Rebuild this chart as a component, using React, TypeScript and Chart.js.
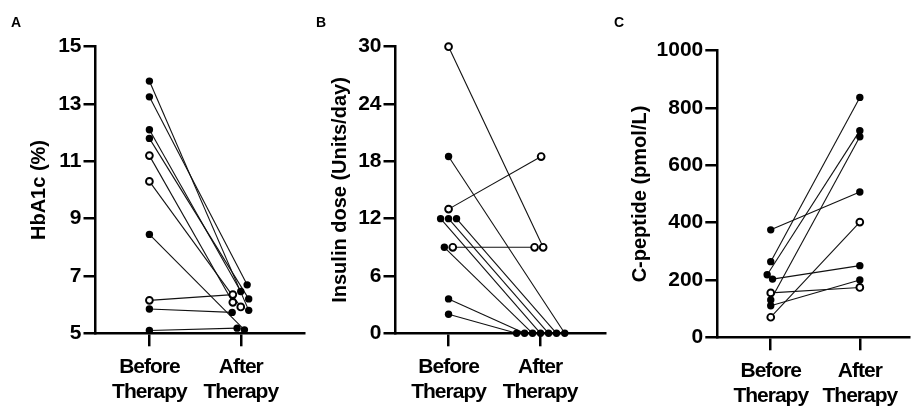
import React, { useEffect, useRef } from "react";
import { Chart, registerables } from "chart.js";

Chart.register(...registerables);

// ---------- shared categories ----------
const categoryLabels: string[][] = [
  ["Before", "Therapy"],
  ["After", "Therapy"],
];

// ---------- Panel A: HbA1c (%) ----------
const hba1cBefore = [13.8, 13.25, 12.1, 11.8, 11.2, 10.3, 8.45, 6.15, 5.85, 5.1];
const hba1cAfter = [5.8, 6.69, 6.46, 6.2, 6.08, 5.92, 5.12, 6.35, 5.73, 5.18];
const hba1cOpen = [false, false, false, false, true, true, false, true, false, false];
const hba1cBeforeSpread = [0, 0, 0, 0, 0, 0, 0, 0, 0, 0];
const hba1cAfterSpread = [0.087, 0.07, 0, 0.087, -0.087, 0, 0.04, -0.087, -0.094, -0.04];
const hba1cTicks = [5, 7, 9, 11, 13, 15];

// ---------- Panel B: Insulin dose (Units/day) ----------
const insulinBefore = [30, 13, 9, 18.5, 12, 12, 12, 9, 3.6, 2];
const insulinAfter = [9, 18.5, 9, 0, 0, 0, 0, 0, 0, 0];
const insulinOpen = [true, true, true, false, false, false, false, false, false, false];
const insulinBeforeSpread = [0, 0, 0.046, 0, 0.087, 0, -0.087, -0.046, 0, 0];
const insulinAfterSpread = [0.034, 0.012, -0.06, 0.27, 0.18, 0.093, 0.005, -0.082, -0.169, -0.256];
const insulinTicks = [0, 6, 12, 18, 24, 30];

// ---------- Panel C: C-peptide (pmol/L) ----------
const cpepBefore = [375, 264, 218, 203, 155, 130, 110, 70];
const cpepAfter = [507, 837, 721, 250, 174, 700, 200, 402];
const cpepOpen = [false, false, false, false, true, false, false, true];
const cpepBeforeSpread = [0, 0, -0.04, 0.02, 0, 0, 0, 0];
const cpepAfterSpread = [0, 0, 0, 0, 0, 0, 0, 0];
const cpepTicks = [0, 200, 400, 600, 800, 1000];

const FONT = "'Liberation Sans', Arial, Helvetica, sans-serif";

type PanelCfg = {
  letter: string;
  title: string;
  before: number[];
  after: number[];
  open: boolean[];
  beforeSpread: number[];
  afterSpread: number[];
  ticks: number[];
  left: number;
  width: number;
  yWidth: number;
  padTop: number;
  xHeight: number;
  padRight: number;
  xMin: number;
  xMax: number;
  titlePad: number;
  letterLeft: number;
};

const panels: PanelCfg[] = [
  {
    letter: "A",
    title: "HbA1c (%)",
    before: hba1cBefore,
    after: hba1cAfter,
    open: hba1cOpen,
    beforeSpread: hba1cBeforeSpread,
    afterSpread: hba1cAfterSpread,
    ticks: hba1cTicks,
    left: 0,
    width: 310,
    yWidth: 95.5,
    padTop: 46.7,
    xHeight: 76.7,
    padRight: 4,
    xMin: 0.41,
    xMax: 2.7,
    titlePad: 27,
    letterLeft: 11,
  },
  {
    letter: "B",
    title: "Insulin dose (Units/day)",
    before: insulinBefore,
    after: insulinAfter,
    open: insulinOpen,
    beforeSpread: insulinBeforeSpread,
    afterSpread: insulinAfterSpread,
    ticks: insulinTicks,
    left: 305,
    width: 310,
    yWidth: 90.5,
    padTop: 46.7,
    xHeight: 76.7,
    padRight: 10,
    xMin: 0.42,
    xMax: 2.71,
    titlePad: 23,
    letterLeft: 316,
  },
  {
    letter: "C",
    title: "C-peptide (pmol/L)",
    before: cpepBefore,
    after: cpepAfter,
    open: cpepOpen,
    beforeSpread: cpepBeforeSpread,
    afterSpread: cpepAfterSpread,
    ticks: cpepTicks,
    left: 610,
    width: 305,
    yWidth: 107.3,
    padTop: 50.7,
    xHeight: 72.7,
    padRight: 0,
    xMin: 0.4,
    xMax: 2.56,
    titlePad: 18,
    letterLeft: 614,
  },
];

function buildConfig(p: PanelCfg): any {
  const lineSets = p.before.map((b, i) => ({
    type: "scatter",
    showLine: true,
    data: [
      { x: 1 + p.beforeSpread[i], y: b },
      { x: 2 + p.afterSpread[i], y: p.after[i] },
    ],
    borderColor: "#111",
    borderWidth: 1.1,
    pointRadius: 0,
    pointHoverRadius: 0,
    order: 3,
    clip: false,
  }));
  const pts = (open: boolean) => {
    const d: { x: number; y: number }[] = [];
    p.before.forEach((b, i) => {
      if (p.open[i] === open) {
        d.push({ x: 1 + p.beforeSpread[i], y: b });
        d.push({ x: 2 + p.afterSpread[i], y: p.after[i] });
      }
    });
    return d;
  };
  const filled = {
    type: "scatter",
    data: pts(false),
    pointRadius: 3.7,
    pointHoverRadius: 3.7,
    pointBackgroundColor: "#000",
    pointBorderColor: "#000",
    pointBorderWidth: 0,
    order: 2,
    clip: false,
  };
  const hollow = {
    type: "scatter",
    data: pts(true),
    pointRadius: 3.4,
    pointHoverRadius: 3.4,
    pointBackgroundColor: "#fff",
    pointBorderColor: "#000",
    pointBorderWidth: 1.9,
    order: 1,
    clip: false,
  };
  const yMin = p.ticks[0];
  const yMax = p.ticks[p.ticks.length - 1];
  return {
    type: "scatter",
    data: { datasets: [...lineSets, filled, hollow] },
    options: {
      animation: false,
      responsive: false,
      events: [],
      layout: { padding: { left: 0, top: p.padTop, right: p.padRight, bottom: 0 } },
      plugins: { legend: { display: false }, tooltip: { enabled: false } },
      scales: {
        x: {
          type: "linear",
          min: p.xMin,
          max: p.xMax,
          afterBuildTicks: (s: any) => {
            s.ticks = [{ value: 1 }, { value: 2 }];
          },
          afterFit: (s: any) => {
            s.height = p.xHeight;
            if (!s.__condensed) {
              const orig = s.drawLabels.bind(s);
              s.drawLabels = (area: any) => {
                const ctx = s.ctx as any;
                ctx.save();
                ctx.letterSpacing = "-1px";
                orig(area);
                ctx.restore();
              };
              s.__condensed = true;
            }
          },
          ticks: {
            autoSkip: false,
            maxRotation: 0,
            minRotation: 0,
            padding: 8,
            color: "#000",
            font: { family: FONT, size: 21, weight: "bold", lineHeight: 1.2 },
            callback: (v: number) => (v === 1 ? categoryLabels[0] : categoryLabels[1]),
          },
          grid: {
            drawOnChartArea: false,
            drawTicks: true,
            tickLength: 13,
            lineWidth: 2.5,
            color: "#000",
          },
          border: { display: true, width: 2.5, color: "#000" },
        },
        y: {
          type: "linear",
          min: yMin,
          max: yMax,
          afterBuildTicks: (s: any) => {
            s.ticks = p.ticks.map((v) => ({ value: v }));
          },
          afterFit: (s: any) => {
            s.width = p.yWidth;
          },
          ticks: {
            padding: 2,
            color: "#000",
            font: { family: FONT, size: 21, weight: "bold" },
            callback: (v: number) => String(v),
          },
          grid: {
            drawOnChartArea: false,
            drawTicks: true,
            tickLength: 12,
            lineWidth: 2.5,
            color: "#000",
          },
          border: { display: true, width: 2.5, color: "#000" },
          title: {
            display: true,
            text: p.title,
            color: "#000",
            font: { family: FONT, size: 20, weight: "bold", lineHeight: 1.2 },
            padding: { top: p.titlePad, bottom: 0 },
          },
        },
      },
    },
  };
}

function Panel({ cfg }: { cfg: PanelCfg }) {
  const ref = useRef<HTMLCanvasElement>(null);
  useEffect(() => {
    const chart = new Chart(ref.current as HTMLCanvasElement, buildConfig(cfg));
    return () => chart.destroy();
  }, [cfg]);
  return (
    <canvas
      ref={ref}
      width={cfg.width}
      height={410}
      style={{ position: "absolute", left: cfg.left, top: 0, width: cfg.width, height: 410 }}
    />
  );
}

export default function App() {
  return (
    <div
      style={{
        position: "absolute",
        left: 0,
        top: 0,
        width: 915,
        height: 410,
        background: "#fff",
        overflow: "hidden",
      }}
    >
      {panels.map((p) => (
        <Panel key={p.letter} cfg={p} />
      ))}
      {panels.map((p) => (
        <div
          key={"l" + p.letter}
          style={{
            position: "absolute",
            left: p.letterLeft,
            top: 15,
            fontFamily: FONT,
            fontWeight: "bold",
            fontSize: 14,
            lineHeight: "14px",
            color: "#000",
          }}
        >
          {p.letter}
        </div>
      ))}
    </div>
  );
}
